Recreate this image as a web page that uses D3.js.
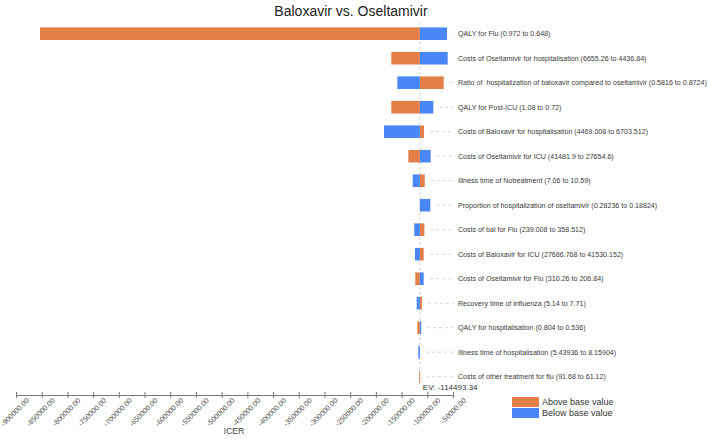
<!DOCTYPE html>
<html>
<head>
<meta charset="utf-8">
<script src="https://cdn.jsdelivr.net/npm/d3@7"></script>
<style>
  body { margin: 0; background: #fff; }
  .workspace { width: 708px; height: 445px; }
  text { font-family: Arial, "Liberation Sans", sans-serif; }
</style>
</head>
<body>
<div class="workspace"></div>
<script>
// parameter names (top to bottom)
const categories = [
  'QALY for Flu (0.972 to 0.648)',
  'Costs of Oseltamivir for hospitalisation (6655.26 to 4436.84)',
  'Ratio of  hospitalization of baloxavir compared to oseltamivir (0.5816 to 0.8724)',
  'QALY for Post-ICU (1.08 to 0.72)',
  'Costs of Baloxavir for hospitalisation (4469.008 to 6703.512)',
  'Costs of Oseltamivir for ICU (41481.9 to 27654.6)',
  'Illness time of Notreatment (7.06 to 10.59)',
  'Proportion of hospitalization of oseltamivir (0.28236 to 0.18824)',
  'Costs of bal for Flu (239.008 to 358.512)',
  'Costs of Baloxavir for ICU (27686.768 to 41530.152)',
  'Costs of Oseltamivir for Flu (310.26 to 206.84)',
  'Recovery time of influenza (5.14 to 7.71)',
  'QALY for hospitalisation (0.804 to 0.536)',
  'Illness time of hospitalisation (5.43936 to 8.15904)',
  'Costs of other treatment for flu (91.68 to 61.12)',
];

const expectedValue = -114493.34;

// ICER at the "above base value" end of each parameter
const aboveValues = [
  -853300, -170000, -68100, -170000, -106400, -136900, -105000,
  -114493.34, -105600, -107000, -123300, -110300, -119400, -114493.34, -116100,
];

// ICER at the "below base value" end of each parameter
const belowValues = [
  -61700, -60300, -158300, -88300, -184200, -93400, -128400,
  -94100, -125300, -123900, -107000, -120600, -111700, -117500, -114493.34,
];

const tickValues = d3.range(-900000, -49999, 50000);
const legendLabels = ['Above base value', 'Below base value'];

const colorAbove = '#E47F47';
const colorBelow = '#4B86F7';

function render() {
  const width = 708;
  const height = 445;

  const svg = d3
    .select('.workspace')
    .append('svg')
    .attr('width', width)
    .attr('height', height);

  const x = d3.scaleLinear().domain([-900000, -50000]).range([16, 453]);
  const y = d3.scalePoint().domain(categories).range([33.7, 376.7]);
  const barHeight = 12.6;

  // title
  svg
    .append('text')
    .attr('x', 351)
    .attr('y', 16)
    .attr('text-anchor', 'middle')
    .style('font-size', '14px')
    .style('fill', '#222')
    .text('Baloxavir vs. Oseltamivir');

  // EV reference line
  svg
    .append('line')
    .attr('x1', x(expectedValue))
    .attr('x2', x(expectedValue))
    .attr('y1', 22)
    .attr('y2', 383)
    .style('stroke', '#d4d4d4')
    .style('stroke-dasharray', '3,2');

  svg
    .append('text')
    .attr('x', x(expectedValue) + 3)
    .attr('y', 390)
    .style('font-size', '8px')
    .style('fill', '#333')
    .text('EV: ' + expectedValue);

  const rows = categories.map(function (d, i) {
    return { name: d, above: aboveValues[i], below: belowValues[i] };
  });

  const row = svg.selectAll('g.row').data(rows).enter().append('g').attr('class', 'row');

  // leader lines
  row
    .append('line')
    .attr('x1', function (d) {
      return Math.max(x(d.above), x(d.below), x(expectedValue)) + 6;
    })
    .attr('x2', 454)
    .attr('y1', function (d) {
      return y(d.name);
    })
    .attr('y2', function (d) {
      return y(d.name);
    })
    .style('stroke', '#d6d6d6')
    .style('stroke-dasharray', '3,3');

  row
    .append('rect')
    .attr('x', function (d) {
      return Math.min(x(d.above), x(expectedValue));
    })
    .attr('y', function (d) {
      return y(d.name) - barHeight / 2;
    })
    .attr('width', function (d) {
      return Math.abs(x(d.above) - x(expectedValue));
    })
    .attr('height', barHeight)
    .style('fill', colorAbove);

  row
    .append('rect')
    .attr('x', function (d) {
      return Math.min(x(d.below), x(expectedValue));
    })
    .attr('y', function (d) {
      return y(d.name) - barHeight / 2;
    })
    .attr('width', function (d) {
      return Math.abs(x(d.below) - x(expectedValue));
    })
    .attr('height', barHeight)
    .style('fill', colorBelow);

  row
    .append('text')
    .attr('x', 458)
    .attr('y', function (d) {
      return y(d.name);
    })
    .attr('dy', '0.35em')
    .style('font-size', '7.1px')
    .style('white-space', 'pre')
    .style('fill', '#3a3a3a')
    .text(function (d) {
      return d.name;
    });

  // x axis
  const axis = svg
    .append('g')
    .attr('transform', 'translate(0,395)')
    .call(
      d3
        .axisBottom(x)
        .tickValues(tickValues)
        .tickFormat(function (d) {
          return d.toFixed(2);
        })
        .tickSizeOuter(0)
        .tickSizeInner(3)
    );

  axis.select('.domain').style('stroke', '#777');
  axis
    .selectAll('.tick line')
    .attr('y1', -3)
    .attr('y2', 3)
    .style('stroke', '#777');
  axis
    .selectAll('.tick text')
    .attr('y', 0)
    .attr('dy', 0)
    .attr('text-anchor', 'end')
    .attr('transform', 'translate(13,6) rotate(-45)')
    .style('font-family', 'Arial, "Liberation Sans", sans-serif')
    .style('font-size', '7.2px')
    .style('fill', '#555');

  svg
    .append('text')
    .attr('x', 234)
    .attr('y', 434)
    .attr('text-anchor', 'middle')
    .style('font-size', '8.5px')
    .style('fill', '#444')
    .text('ICER');

  // legend
  const legend = svg
    .selectAll('g.legend')
    .data(legendLabels)
    .enter()
    .append('g')
    .attr('class', 'legend')
    .attr('transform', function (d, i) {
      return `translate(512,${397 + i * 11})`;
    });

  legend
    .append('rect')
    .attr('width', 27)
    .attr('height', 10)
    .style('fill', function (d, i) {
      return i === 0 ? colorAbove : colorBelow;
    });

  legend
    .append('text')
    .attr('x', 30)
    .attr('y', 5)
    .attr('dy', '0.35em')
    .style('font-size', '9px')
    .style('fill', '#333')
    .text(function (d) {
      return d;
    });
}

render();
</script>
</body>
</html>
